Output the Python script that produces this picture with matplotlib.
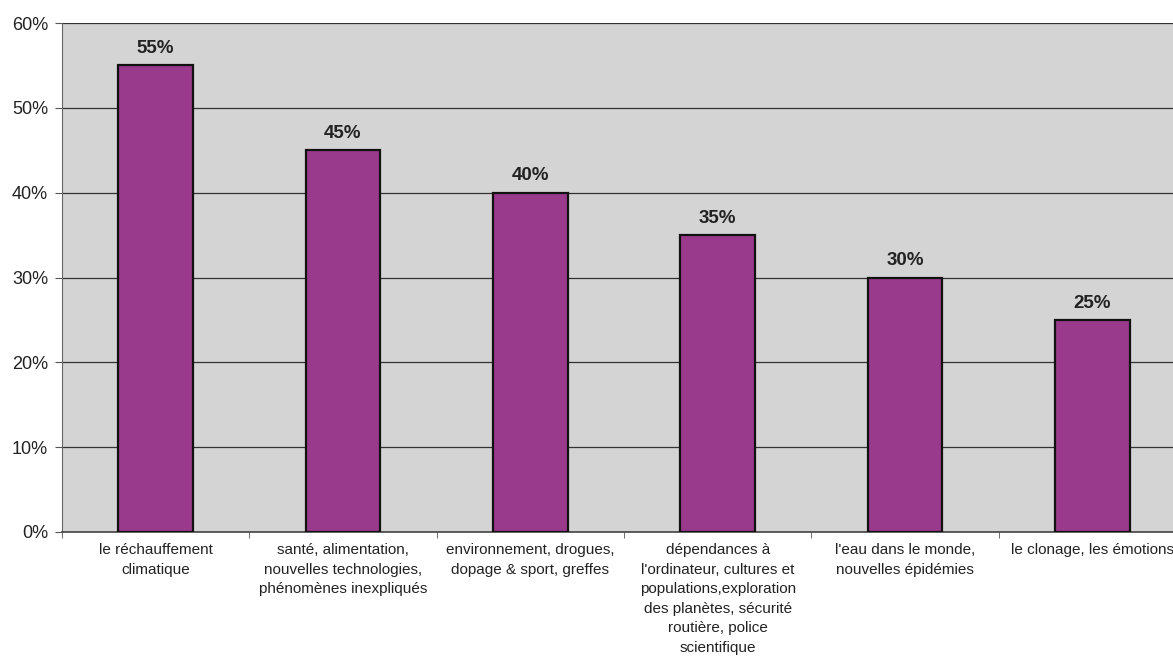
import matplotlib
matplotlib.use("Agg")
import matplotlib.pyplot as plt
import numpy as np

# themes et pourcentages
categories = [
    "le réchauffement\nclimatique",
    "santé, alimentation,\nnouvelles technologies,\nphénomènes inexpliqués",
    "environnement, drogues,\ndopage & sport, greffes",
    "dépendances à\nl'ordinateur, cultures et\npopulations,exploration\ndes planètes, sécurité\nroutière, police\nscientifique",
    "l'eau dans le monde,\nnouvelles épidémies",
    "le clonage, les émotions",
]
valeurs = [55, 45, 40, 35, 30, 25]
yticks = [0, 10, 20, 30, 40, 50, 60]

plt.rcParams['font.family'] = ['Liberation Sans', 'DejaVu Sans']

fig = plt.figure(figsize=(11.73, 6.57), dpi=100)
# plot area runs past the right edge like the scanned original
ax = fig.add_axes([62/1173, (657-532)/657, 1124/1173, 509/657])
ax.set_facecolor("#d4d4d4")

x = np.arange(len(categories))
bars = ax.bar(x, valeurs, width=0.4, color="#9a3a8c", edgecolor="#111111", linewidth=1.6, zorder=3)

for xi, v in zip(x, valeurs):
    ax.annotate(f"{v}%", (xi, v), xytext=(0, 6), textcoords="offset points",
                ha="center", va="bottom", fontsize=13.5, fontweight="bold", color="#222222")

ax.set_xlim(-0.5, len(categories) - 0.5)
ax.set_ylim(0, 60)
ax.set_yticks(yticks)
ax.set_yticklabels([f"{t}%" for t in yticks], fontsize=13, color="#222222")
ax.yaxis.grid(True, color="#333333", linewidth=0.9, zorder=0)

ax.set_xticks(x)
ax.set_xticklabels(categories, fontsize=11, color="#222222", linespacing=1.5)
ax.tick_params(axis="x", which="major", length=0, pad=8)
ax.set_xticks(np.arange(len(categories) + 1) - 0.5, minor=True)
ax.tick_params(axis="x", which="minor", length=4, color="#555555")
ax.tick_params(axis="y", length=5, color="#555555", pad=5)

for s in ["top", "right"]:
    ax.spines[s].set_visible(False)
ax.spines["left"].set_color("#666666")
ax.spines["bottom"].set_color("#444444")
ax.spines["bottom"].set_linewidth(1.2)

fig.savefig("out.png", dpi=100)
